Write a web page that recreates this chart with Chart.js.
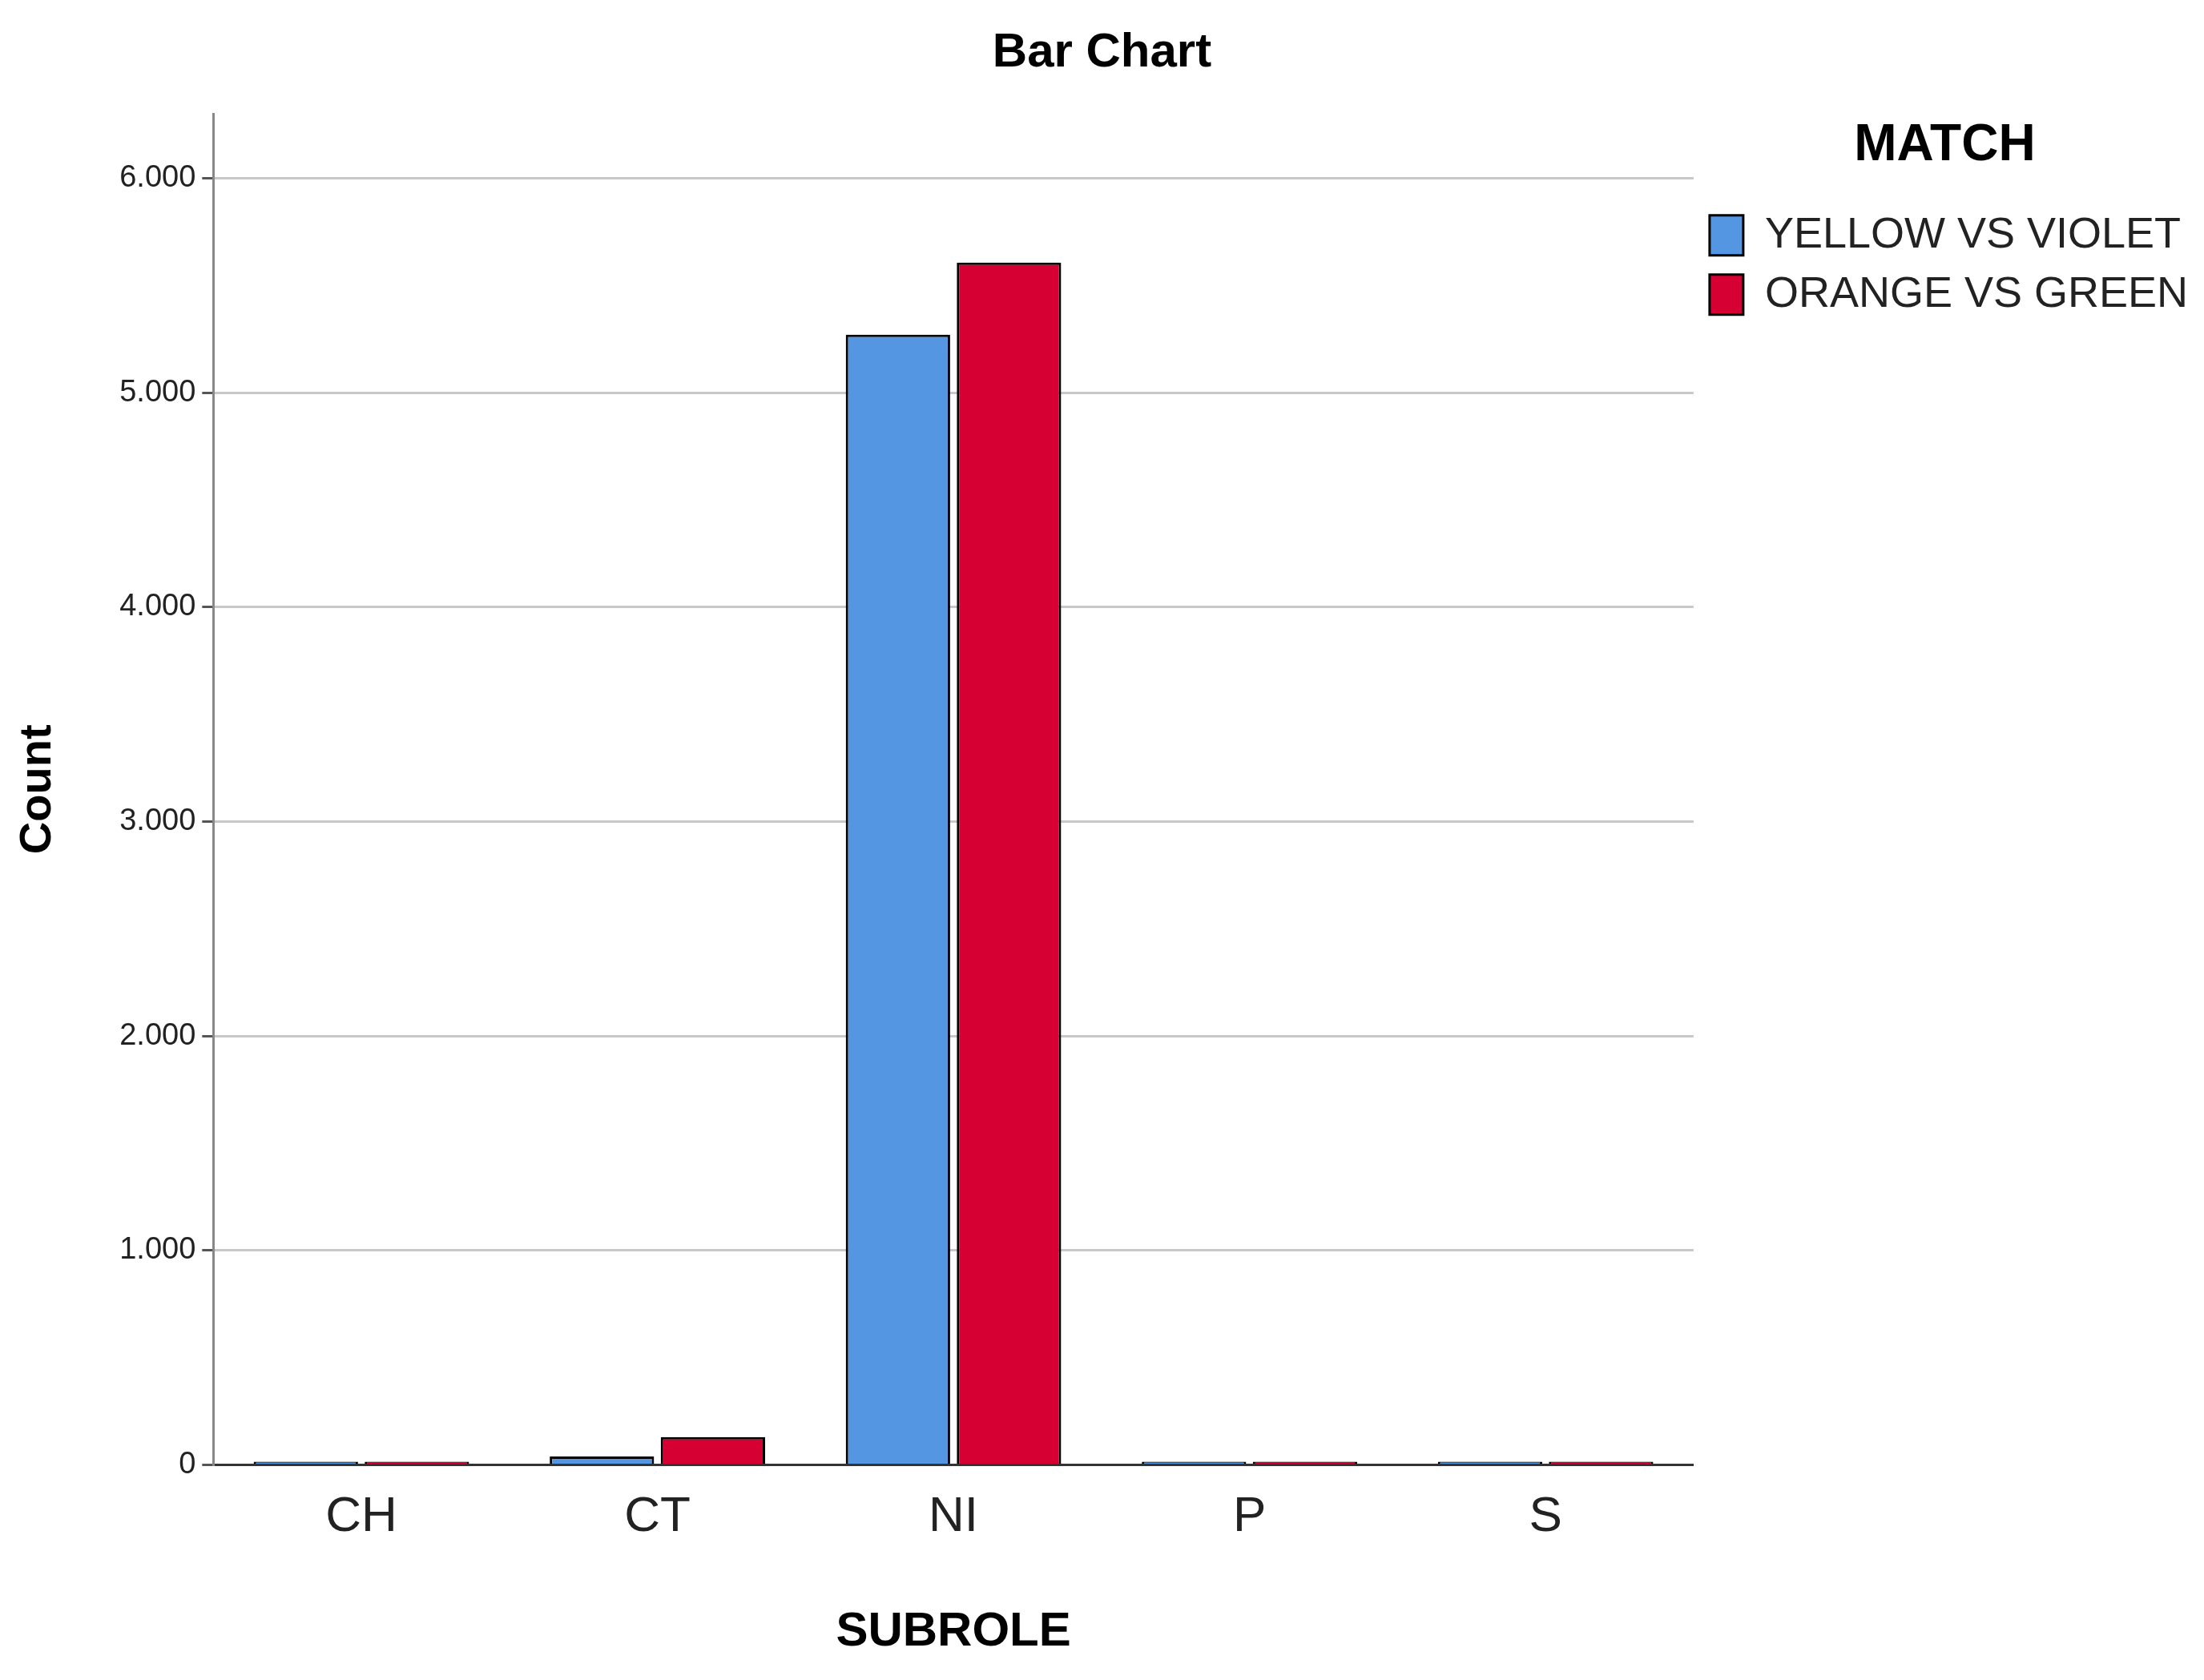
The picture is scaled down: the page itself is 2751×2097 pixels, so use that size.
<!DOCTYPE html>
<html><head><meta charset="utf-8">
<script src="https://cdn.jsdelivr.net/npm/chart.js@4/dist/chart.umd.min.js"></script>
<style>html,body{margin:0;padding:0;background:#fff}#wrap{width:2751px;height:2097px}</style>
</head><body><div id="wrap"><canvas id="c"></canvas></div>
<script>
const categories = ["CH","CT","NI","P","S"];
const seriesNames = ["YELLOW VS VIOLET","ORANGE VS GREEN"];
const yellowVsViolet = [15, 40, 5270, 12, 5];
const orangeVsGreen = [12, 130, 5606, 8, 5];
const yTicks = [0,1000,2000,3000,4000,5000,6000];
const F = "Arial, 'Liberation Sans', sans-serif";
const FN = "'Liberation Sans Narrow', 'Arial Narrow', Arial, sans-serif";
new Chart(document.getElementById('c'), {
  type: 'bar',
  data: { labels: categories, datasets: [
    {label: seriesNames[0], data: yellowVsViolet, backgroundColor:'#5596e3', borderColor:'#000', borderWidth:3, categoryPercentage:0.75, barPercentage:0.94, minBarLength:4},
    {label: seriesNames[1], data: orangeVsGreen, backgroundColor:'#d60032', borderColor:'#000', borderWidth:3, categoryPercentage:0.75, barPercentage:0.94, minBarLength:4}
  ]},
  options: {
    responsive:true, maintainAspectRatio:false, animation:false,
    layout:{padding:{top:20,left:10,right:10,bottom:20}},
    plugins:{
      title:{display:true,text:'Bar Chart',color:'#000',font:{family:FN,size:60,weight:'bold'},padding:{top:10,bottom:40}},
      legend:{position:'right',align:'start',title:{display:true,text:'MATCH',color:'#000',font:{family:FN,size:64,weight:'bold'},padding:{top:130,bottom:20}},
        labels:{color:'#222',font:{family:FN,size:54},boxWidth:42,boxHeight:50,padding:20}},
      tooltip:{enabled:false}
    },
    scales:{
      x:{grid:{display:false},border:{color:'#333',width:3},
        ticks:{color:'#222',font:{family:FN,size:62},padding:20},
        title:{display:true,text:'SUBROLE',color:'#000',font:{family:FN,size:60,weight:'bold'},padding:{top:50}}},
      y:{min:0,max:6300,
        afterBuildTicks:(s)=>{s.ticks=yTicks.map(v=>({value:v}));},
        grid:{color:'#c8c8c8',lineWidth:3,drawTicks:true,tickLength:14,tickColor:'#555'},
        border:{color:'#888',width:3},
        ticks:{color:'#222',font:{family:FN,size:38},padding:8,callback:(v)=>v===0?'0':String(v).replace(/^(\d)(\d{3})$/,'$1.$2')},
        title:{display:true,text:'Count',color:'#000',font:{family:F,size:56,weight:'bold'},padding:{bottom:60}}}
    }
  }
});
</script></body></html>
